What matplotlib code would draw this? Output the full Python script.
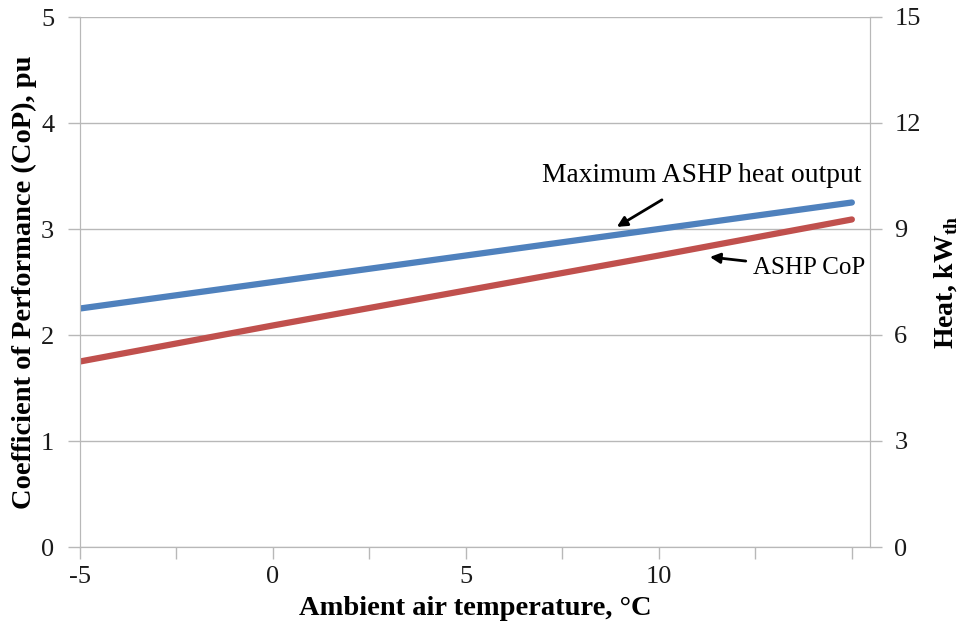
import matplotlib
matplotlib.use("Agg")
import matplotlib.pyplot as plt

temps = [-5, 0, 5, 10, 15]
cop = [1.75, 2.09, 2.42, 2.75, 3.09]
heat_kw = [6.75, 7.5, 8.25, 9.0, 9.75]

x_ticks = [-5, -2.5, 0, 2.5, 5, 7.5, 10, 12.5, 15]
x_labels = ["-5", "", "0", "", "5", "", "10", "", ""]
y_left_ticks = [0, 1, 2, 3, 4, 5]
y_right_ticks = [0, 3, 6, 9, 12, 15]

FONT = "Liberation Serif"
grey = "#b8b8b8"

L, R, T, B = 80, 870, 17, 547
fig = plt.figure(figsize=(9.64, 6.25), dpi=100)
ax = fig.add_axes([L/964, 1-B/625, (R-L)/964, (B-T)/625])
ax2 = ax.twinx()

ax.set_xlim(-5, 15.47)
ax.set_ylim(0, 5)
ax2.set_ylim(0, 15)

ax.set_yticks(y_left_ticks)
ax2.set_yticks(y_right_ticks)
ax.set_xticks(x_ticks)
ax.set_xticklabels(x_labels)

ax.grid(axis="y", color=grey, lw=1)
ax.set_axisbelow(True)

for a in (ax, ax2):
    for s in a.spines.values():
        s.set_color(grey)
    a.spines["top"].set_visible(False)
    a.tick_params(colors=grey, labelcolor="#1a1a1a", length=8.5, width=1,
                  labelsize=19)
    for lab in a.get_xticklabels() + a.get_yticklabels():
        lab.set_fontfamily(FONT)
ax.tick_params(axis="x", pad=5)
ax.tick_params(axis="y", pad=10)
ax2.tick_params(axis="y", pad=9)

ax.plot(temps, cop, color="#c0504d", lw=4.5, solid_capstyle="round")
ax2.plot(temps, heat_kw, color="#4f81bd", lw=4.5, solid_capstyle="round")

ax.set_xlabel("Ambient air temperature, \u00b0C", fontfamily=FONT,
              fontweight="bold", fontsize=20.5)
ax.xaxis.set_label_coords(0.5, -0.093)
ax.set_ylabel("Coefficient of Performance (CoP), pu", fontfamily=FONT,
              fontweight="bold", fontsize=20.5)
ax.yaxis.set_label_coords((37 - L) / (R - L), 0.5)
ax2.set_ylabel("Heat, kW$_{\\mathregular{th}}$", fontfamily=FONT,
               fontweight="bold", fontsize=20)
ax2.yaxis.set_label_coords((932 - L) / (R - L), 0.5)

ax.annotate("Maximum ASHP heat output", xy=(8.91, 3.02), xytext=(6.97, 3.50),
            fontfamily=FONT, fontsize=19.8, va="center", ha="left",
            arrowprops=dict(arrowstyle="-|>", color="black", lw=2,
                            shrinkA=12, shrinkB=0, mutation_scale=15))
ax.annotate("ASHP CoP", xy=(11.32, 2.736), xytext=(12.43, 2.63),
            fontfamily=FONT, fontsize=18, va="center", ha="left",
            arrowprops=dict(arrowstyle="-|>", color="black", lw=2,
                            shrinkA=3, shrinkB=0, mutation_scale=15))

fig.savefig("out.png", dpi=100)
